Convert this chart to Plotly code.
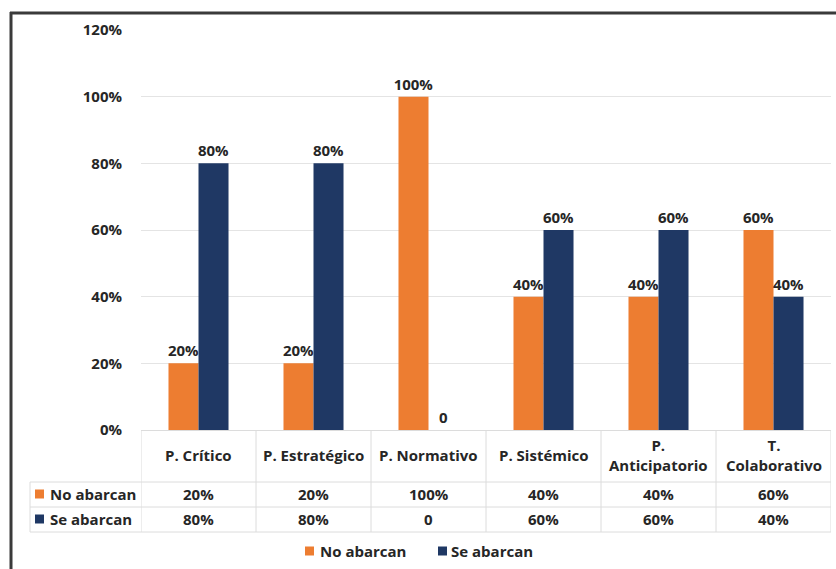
import plotly.graph_objects as go

# ---- data ----
categories = ["P. Crítico", "P. Estratégico", "P. Normativo", "P. Sistémico",
              "P. Anticipatorio", "T. Colaborativo"]
header_labels = ["P. Crítico", "P. Estratégico", "P. Normativo", "P. Sistémico",
                 "P.<br>Anticipatorio", "T.<br>Colaborativo"]
series_names = ["No abarcan", "Se abarcan"]
no_abarcan = [0.20, 0.20, 1.00, 0.40, 0.40, 0.60]
se_abarcan = [0.80, 0.80, 0.00, 0.60, 0.60, 0.40]
y_ticks = [0, 0.2, 0.4, 0.6, 0.8, 1.0, 1.2]

colors = ["#ED7D31", "#1F3864"]
FONT = "Open Sans"
FS = 15
TXT = "#262626"
GRID = "#E4E4E4"
TABLE = "#DCDCDC"


def fmt(v):
    return "0" if v == 0 else f"{round(v * 100)}%"


W, H = 836, 569
L, R, T, B = 141, 5, 30, 139
PW, PH = W - L - R, H - T - B


def px(x):
    return (x - L) / PW


def py(y):
    return (H - B - y) / PH


def f():
    return dict(family=FONT, size=FS, color=TXT, weight="bold")


fig = go.Figure()
for name, vals, col in zip(series_names, [no_abarcan, se_abarcan], colors):
    fig.add_trace(go.Bar(
        x=categories, y=vals, name=name, marker=dict(color=col, line=dict(width=0)),
        text=[fmt(v) for v in vals], textposition="outside", constraintext="none",
        cliponaxis=False, textfont=f(), showlegend=False,
    ))

shapes = []
annotations = []

# table: column boundaries
n = len(categories)
for i in range(n + 1):
    shapes.append(dict(type="line", xref="x", yref="paper", x0=i - 0.5, x1=i - 0.5,
                       y0=0, y1=py(532), line=dict(color=TABLE, width=1)))
# row-label column left edge
shapes.append(dict(type="line", xref="paper", yref="paper", x0=px(30), x1=px(30),
                   y0=py(482), y1=py(532), line=dict(color=TABLE, width=1)))
for yy in [482, 507, 532]:
    shapes.append(dict(type="line", xref="paper", yref="paper", x0=px(30), x1=1,
                       y0=py(yy), y1=py(yy), line=dict(color=TABLE, width=1)))

# header labels
for i, lab in enumerate(header_labels):
    annotations.append(dict(x=i, xref="x", y=py(455), yref="paper", text=lab,
                            showarrow=False, xanchor="center", yanchor="middle",
                            font=f()))
# table rows
row_y = [494, 519]
for name, vals, col, yy in zip(series_names, [no_abarcan, se_abarcan], colors, row_y):
    shapes.append(dict(type="rect", xref="paper", yref="paper", x0=px(35), x1=px(44),
                       y0=py(yy - 4.5), y1=py(yy + 4.5), fillcolor=col, line=dict(width=0)))
    annotations.append(dict(x=px(48), xref="paper", y=py(yy), yref="paper", text=name,
                            showarrow=False, xanchor="left", yanchor="middle", font=f()))
    for i, v in enumerate(vals):
        annotations.append(dict(x=i, xref="x", y=py(yy), yref="paper", text=fmt(v),
                                showarrow=False, xanchor="center", yanchor="middle",
                                font=f()))

# legend (manual)
leg_x = [(305, 318), (438, 449)]
for name, col, (sx, tx) in zip(series_names, colors, leg_x):
    shapes.append(dict(type="rect", xref="paper", yref="paper", x0=px(sx), x1=px(sx + 9),
                       y0=py(551 - 4.5), y1=py(551 + 4.5), fillcolor=col, line=dict(width=0)))
    annotations.append(dict(x=px(tx), xref="paper", y=py(551), yref="paper", text=name,
                            showarrow=False, xanchor="left", yanchor="middle", font=f()))

# outer frame (top and left edges)
shapes.append(dict(type="line", xref="paper", yref="paper", x0=px(10), x1=px(840),
                   y0=py(13), y1=py(13), line=dict(color="#3a3a3a", width=3)))
shapes.append(dict(type="line", xref="paper", yref="paper", x0=px(11), x1=px(11),
                   y0=py(12), y1=py(575), line=dict(color="#3a3a3a", width=3)))

fig.update_layout(
    width=W, height=H, autosize=False,
    margin=dict(l=L, r=R, t=T, b=B, pad=0),
    paper_bgcolor="white", plot_bgcolor="white",
    barmode="group", bargap=0.478, bargroupgap=0,
    font=dict(family=FONT, size=FS, color=TXT),
    shapes=shapes, annotations=annotations,
    showlegend=False,
)
fig.update_xaxes(type="category", range=[-0.5, n - 0.5], showticklabels=False,
                 showgrid=False, showline=True, linecolor=TABLE, linewidth=1,
                 ticks="", fixedrange=True)
fig.update_yaxes(range=[0, 1.2], tickvals=y_ticks, tickformat=".0%",
                 showgrid=True, gridcolor=GRID, gridwidth=1, zeroline=False,
                 showline=False, ticks="outside", ticklen=15,
                 tickcolor="rgba(0,0,0,0)", tickfont=f())

fig.write_html("out.html")
